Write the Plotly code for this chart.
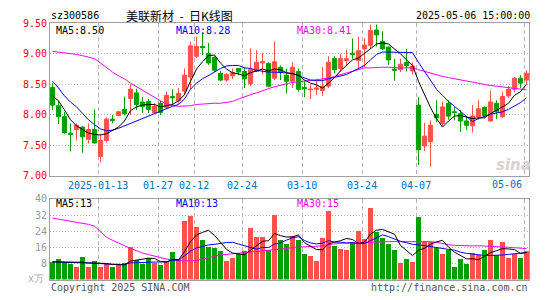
import plotly.graph_objects as go

# ---------------- data ----------------
dates = [
    "2024-12-31", "2025-01-02", "2025-01-03", "2025-01-06", "2025-01-07", "2025-01-08", "2025-01-09", "2025-01-10",
    "2025-01-13", "2025-01-14", "2025-01-15", "2025-01-16", "2025-01-17", "2025-01-20", "2025-01-21", "2025-01-22",
    "2025-01-23", "2025-01-24", "2025-01-27", "2025-02-05", "2025-02-06", "2025-02-07", "2025-02-10", "2025-02-11",
    "2025-02-12", "2025-02-13", "2025-02-14", "2025-02-17", "2025-02-18", "2025-02-19", "2025-02-20", "2025-02-21",
    "2025-02-24", "2025-02-25", "2025-02-26", "2025-02-27", "2025-02-28", "2025-03-03", "2025-03-04", "2025-03-05",
    "2025-03-06", "2025-03-07", "2025-03-10", "2025-03-11", "2025-03-12", "2025-03-13", "2025-03-14", "2025-03-17",
    "2025-03-18", "2025-03-19", "2025-03-20", "2025-03-21", "2025-03-24", "2025-03-25", "2025-03-26", "2025-03-27",
    "2025-03-28", "2025-03-31", "2025-04-01", "2025-04-02", "2025-04-03", "2025-04-07", "2025-04-08", "2025-04-09",
    "2025-04-10", "2025-04-11", "2025-04-14", "2025-04-15", "2025-04-16", "2025-04-17", "2025-04-18", "2025-04-21",
    "2025-04-22", "2025-04-23", "2025-04-24", "2025-04-25", "2025-04-28", "2025-04-29", "2025-04-30", "2025-05-06",
]

open_ = [8.45, 8.15, 7.97, 7.70, 7.76, 7.80, 7.60, 7.76, 7.32, 7.58, 7.93, 7.99, 8.09, 8.27, 8.36, 8.21,
         8.22, 8.03, 8.19, 8.12, 8.30, 8.23, 8.39, 8.62, 8.96, 9.12, 9.00, 8.94, 8.68, 8.57, 8.64, 8.76,
         8.71, 8.51, 8.71, 8.85, 8.84, 8.60, 8.78, 8.65, 8.55, 8.71, 8.45, 8.41, 8.42, 8.40, 8.47, 8.92,
         8.76, 8.89, 9.01, 8.89, 9.08, 9.14, 9.39, 9.20, 9.11, 8.75, 8.74, 8.86, 8.72, 8.16, 7.49, 7.56,
         8.01, 7.86, 8.19, 8.05, 8.02, 7.90, 7.82, 7.97, 8.12, 7.90, 8.19, 7.97, 8.31, 8.42, 8.60, 8.57]
high = [8.52, 8.23, 8.05, 7.86, 7.86, 7.81, 7.86, 8.09, 7.68, 7.96, 8.00, 8.07, 8.30, 8.50, 8.43, 8.29,
        8.26, 8.19, 8.23, 8.38, 8.42, 8.44, 8.76, 9.20, 9.28, 9.35, 9.18, 8.96, 8.72, 8.68, 8.76, 8.77,
        8.78, 9.09, 9.06, 9.02, 8.86, 9.20, 8.81, 8.76, 8.86, 8.76, 8.56, 8.50, 8.57, 8.78, 8.96, 8.96,
        9.00, 9.07, 9.25, 9.28, 9.25, 9.48, 9.48, 9.37, 9.12, 8.92, 8.92, 9.08, 8.86, 8.29, 7.87, 7.91,
        8.24, 8.21, 8.24, 8.13, 8.08, 7.98, 8.16, 8.24, 8.14, 8.40, 8.24, 8.38, 8.47, 8.62, 8.65, 8.73]
low = [8.08, 7.85, 7.69, 7.40, 7.58, 7.38, 7.53, 7.53, 7.22, 7.55, 7.86, 7.98, 7.99, 8.00, 8.08, 8.03,
       8.03, 8.02, 8.00, 8.10, 8.16, 8.18, 8.34, 8.42, 8.93, 8.98, 8.82, 8.70, 8.55, 8.54, 8.59, 8.65,
       8.44, 8.47, 8.70, 8.66, 8.45, 8.57, 8.57, 8.35, 8.44, 8.38, 8.29, 8.26, 8.33, 8.31, 8.44, 8.68,
       8.71, 8.82, 8.92, 8.77, 8.78, 9.08, 9.12, 9.06, 8.82, 8.56, 8.70, 8.71, 8.66, 7.18, 7.41, 7.15,
       7.88, 7.82, 7.92, 7.91, 7.72, 7.75, 7.71, 7.92, 7.95, 7.89, 7.93, 7.95, 8.28, 8.37, 8.44, 8.50]
close = [8.16, 7.97, 7.71, 7.68, 7.83, 7.64, 7.76, 7.54, 7.58, 7.93, 7.91, 8.05, 8.02, 8.42, 8.17, 8.14,
         8.09, 8.14, 8.04, 8.32, 8.28, 8.35, 8.65, 9.13, 9.12, 9.10, 8.85, 8.73, 8.57, 8.66, 8.69, 8.70,
         8.59, 8.74, 8.86, 8.87, 8.47, 8.87, 8.70, 8.55, 8.78, 8.42, 8.43, 8.42, 8.44, 8.47, 8.86, 8.74,
         8.92, 8.92, 8.99, 9.05, 9.14, 9.38, 9.31, 9.08, 8.90, 8.73, 8.83, 8.81, 8.80, 7.43, 7.65, 7.83,
         7.95, 8.13, 7.98, 8.04, 7.90, 7.83, 7.98, 8.10, 7.99, 8.21, 8.05, 8.30, 8.42, 8.60, 8.52, 8.68]

ma5 = [8.31, 8.23, 8.08, 7.92, 7.82, 7.76, 7.70, 7.68, 7.67, 7.69, 7.75, 7.80, 7.90, 8.07, 8.13, 8.16,
       8.17, 8.17, 8.13, 8.15, 8.17, 8.23, 8.33, 8.55, 8.75, 8.87, 8.97, 8.98, 8.85, 8.75, 8.69, 8.67,
       8.64, 8.69, 8.72, 8.75, 8.72, 8.75, 8.74, 8.69, 8.67, 8.65, 8.57, 8.52, 8.49, 8.44, 8.52, 8.61,
       8.72, 8.81, 8.90, 8.93, 9.01, 9.09, 9.16, 9.18, 9.16, 9.08, 9.00, 8.90, 8.81, 8.55, 8.33, 8.12,
       7.94, 7.80, 7.90, 7.98, 7.99, 7.97, 7.94, 7.95, 7.95, 8.02, 8.07, 8.13, 8.19, 8.32, 8.38, 8.50]
ma10 = [8.55, 8.44, 8.31, 8.21, 8.13, 8.03, 7.92, 7.84, 7.77, 7.74, 7.75, 7.78, 7.82, 7.87, 7.91, 7.95,
        7.98, 8.03, 8.06, 8.10, 8.14, 8.17, 8.26, 8.42, 8.52, 8.59, 8.64, 8.70, 8.76, 8.80, 8.81, 8.81,
        8.77, 8.76, 8.73, 8.71, 8.70, 8.70, 8.69, 8.69, 8.68, 8.64, 8.60, 8.57, 8.56, 8.56, 8.59, 8.61,
        8.63, 8.66, 8.71, 8.76, 8.81, 8.90, 8.99, 9.03, 9.03, 9.03, 9.03, 9.03, 9.02, 8.86, 8.71, 8.56,
        8.42, 8.32, 8.22, 8.14, 8.06, 7.97, 7.89, 7.94, 7.98, 8.01, 8.03, 8.05, 8.09, 8.14, 8.20, 8.28]
ma30 = [9.04, 9.03, 9.02, 9.00, 8.99, 8.97, 8.95, 8.92, 8.85, 8.77, 8.70, 8.64, 8.59, 8.52, 8.46, 8.40,
        8.35, 8.29, 8.23, 8.18, 8.15, 8.14, 8.14, 8.15, 8.17, 8.18, 8.19, 8.19, 8.19, 8.20, 8.22, 8.26,
        8.30, 8.33, 8.36, 8.40, 8.43, 8.46, 8.49, 8.51, 8.53, 8.54, 8.55, 8.56, 8.57, 8.58, 8.60, 8.63,
        8.66, 8.69, 8.71, 8.74, 8.77, 8.77, 8.78, 8.78, 8.78, 8.77, 8.77, 8.77, 8.77, 8.74, 8.71, 8.68,
        8.65, 8.63, 8.61, 8.59, 8.57, 8.55, 8.53, 8.51, 8.49, 8.48, 8.47, 8.46, 8.45, 8.44, 8.42, 8.41]

volume = [8.8, 10.1, 8.8, 8.0, 6.4, 11.3, 6.4, 9.3, 6.4, 7.7, 6.4, 7.2, 8.5, 16.1, 9.8, 8.0,
          10.9, 8.5, 7.4, 9.3, 13.7, 10.1, 29.1, 31.8, 26.2, 19.8, 16.1, 15.8, 14.1, 9.3, 10.9, 12.9,
          14.1, 25.7, 21.1, 21.1, 14.5, 32.3, 19.9, 17.8, 21.7, 19.5, 12.5, 11.6, 9.3, 20.9, 34.2, 16.9,
          15.4, 14.5, 18.6, 24.1, 20.4, 35.4, 23.8, 20.9, 17.8, 14.5, 8.2, 10.1, 8.8, 31.3, 19.0, 18.5,
          15.8, 12.9, 14.5, 6.4, 10.1, 7.7, 13.0, 12.2, 14.5, 19.8, 12.2, 18.5, 10.9, 12.9, 10.6, 14.1]
vma5 = [8.8, 8.8, 8.8, 8.6, 8.5, 8.6, 8.3, 8.3, 8.0, 8.0, 7.5, 7.4, 7.3, 9.2, 9.6, 10.0,
        10.6, 10.5, 8.9, 8.7, 10.0, 9.8, 13.9, 18.8, 22.2, 23.4, 24.5, 21.9, 18.4, 15.0, 13.2, 12.6,
        12.3, 14.6, 16.9, 19.0, 19.3, 22.9, 21.8, 21.1, 21.2, 22.2, 18.3, 16.6, 14.9, 14.8, 17.7, 18.6,
        19.3, 20.4, 19.9, 17.9, 18.6, 22.6, 24.5, 24.9, 23.7, 22.5, 17.0, 14.3, 11.9, 14.6, 15.5, 17.5,
        18.7, 19.5, 16.1, 13.6, 11.9, 10.3, 10.3, 9.9, 11.5, 13.4, 14.3, 15.4, 15.2, 14.9, 13.0, 13.4]
vma10 = [8.8, 8.7, 8.6, 8.5, 8.5, 8.6, 8.4, 8.3, 8.0, 7.7, 7.6, 7.5, 7.5, 8.3, 8.4, 8.6,
         8.7, 8.6, 8.6, 8.9, 9.6, 9.7, 11.8, 14.1, 15.7, 16.6, 17.2, 17.5, 18.1, 18.4, 18.5, 17.7,
         16.9, 16.2, 15.1, 16.0, 15.9, 17.6, 18.2, 19.6, 20.7, 21.3, 19.4, 18.2, 17.7, 18.1, 19.3, 18.6,
         18.6, 18.1, 18.3, 17.9, 17.9, 19.3, 20.7, 22.2, 21.3, 20.2, 19.0, 18.3, 17.5, 17.3, 16.8, 16.2,
         15.8, 15.4, 15.0, 14.6, 13.6, 13.0, 12.6, 12.3, 12.0, 12.0, 12.0, 12.2, 12.5, 12.9, 13.2, 13.4]
vma30 = [30.5, 30.0, 29.5, 28.9, 28.3, 27.8, 27.4, 26.5, 23.5, 21.0, 19.5, 18.0, 16.8, 15.5, 14.3, 13.2,
         12.4, 11.6, 10.9, 10.2, 9.7, 9.4, 9.3, 9.3, 9.5, 10.2, 10.9, 11.6, 12.2, 12.5, 12.8, 13.0,
         13.2, 13.4, 13.7, 14.1, 14.3, 14.7, 15.0, 15.4, 16.0, 16.1, 16.2, 16.3, 16.4, 16.7, 17.4, 17.8,
         18.0, 18.2, 18.3, 18.4, 18.5, 18.7, 18.8, 18.9, 18.9, 18.9, 18.8, 18.8, 18.8, 18.9, 18.9, 18.8,
         18.5, 17.8, 17.3, 17.0, 16.8, 16.6, 16.7, 16.8, 16.7, 16.5, 16.3, 16.1, 16.0, 15.8, 15.6, 15.4]

tick_dates = ["2025-01-13", "2025-01-27", "2025-02-12", "2025-02-24", "2025-03-10", "2025-03-24", "2025-04-07", "2025-05-06"]
tick_labels = ["2025-01-13", "01-27", "02-12", "02-24", "03-10", "03-24", "04-07", "05-06"]
price_ticks = [7.0, 7.5, 8.0, 8.5, 9.0, 9.5]
vol_ticks = [8, 16, 24, 32, 40]

# ---------------- style ----------------
W, H = 545, 300
L, R = 50, 529
RED = "#ff5050"
GREEN = "#00a000"
MONO = "DejaVu Sans Mono"
GRIDC = "#b4b4b4"
BORDER = "#a0a0a0"
BLUE_T = "#0070c0"

x = list(range(len(dates)))
tick_idx = [dates.index(d) for d in tick_dates]
grid_shift = -0.4  # grid lines sit slightly left of candle centres


def fx(px):
    return (px - L) / (R - L)


def fy(py):
    return 1 - py / H


fig = go.Figure()

fig.add_trace(go.Candlestick(
    x=x, open=open_, high=high, low=low, close=close,
    increasing=dict(line=dict(color=RED, width=1), fillcolor=RED),
    decreasing=dict(line=dict(color=GREEN, width=1), fillcolor=GREEN),
    whiskerwidth=0, xaxis="x", yaxis="y", showlegend=False, hoverinfo="skip",
))
for s, c in [(ma30, "#ff00ff"), (ma10, "#0000ff"), (ma5, "#000000")]:
    fig.add_trace(go.Scatter(x=x, y=s, mode="lines", line=dict(color=c, width=1),
                             xaxis="x", yaxis="y", showlegend=False, hoverinfo="skip"))

bar_colors = [RED if c >= o else GREEN for o, c in zip(open_, close)]
fig.add_trace(go.Bar(x=x, y=volume, marker=dict(color=bar_colors, line=dict(width=0)),
                     width=0.78, xaxis="x2", yaxis="y2", showlegend=False, hoverinfo="skip"))
for s, c in [(vma30, "#ff00ff"), (vma10, "#0000ff"), (vma5, "#000000")]:
    fig.add_trace(go.Scatter(x=x, y=s, mode="lines", line=dict(color=c, width=1),
                             xaxis="x2", yaxis="y2", showlegend=False, hoverinfo="skip"))

xr = [-0.42, len(dates) - 1 + 0.42]
gridvals = [i + grid_shift for i in tick_idx]
common_x = dict(range=xr, showline=True, mirror=True, linecolor=BORDER, linewidth=1,
                showgrid=True, gridcolor=GRIDC, griddash="4px,3px", gridwidth=1,
                zeroline=False, ticks="", fixedrange=True)

fig.update_layout(
    width=W, height=H,
    margin=dict(l=L, r=W - R, t=0, b=0),
    paper_bgcolor="white", plot_bgcolor="white",
    boxgap=0.3, boxgroupgap=0,
    bargap=0,
    xaxis=dict(**common_x, domain=[0, 1], anchor="y", tickmode="array", tickvals=gridvals,
               ticktext=tick_labels[:-1] + [""],
               tickfont=dict(family=MONO, size=10, color=BLUE_T), rangeslider=dict(visible=False)),
    yaxis=dict(domain=[fy(177), fy(18)], range=[7.0, 9.5], tickvals=price_ticks, tickformat=".2f",
               showline=True, mirror=True, linecolor=BORDER, linewidth=1,
               showgrid=True, gridcolor=GRIDC, griddash="1px,2px", zeroline=False, ticks="",
               tickfont=dict(family=MONO, size=10, color="#ff0000"), anchor="x"),
    xaxis2=dict(**common_x, domain=[0, 1], anchor="y2", tickmode="array", tickvals=gridvals,
                showticklabels=False),
    yaxis2=dict(domain=[fy(285), fy(201)], range=[0, 40], tickvals=vol_ticks,
                showline=True, mirror=True, linecolor=BORDER, linewidth=1,
                showgrid=True, gridcolor=GRIDC, griddash="1px,2px", zeroline=False, ticks="",
                tickfont=dict(family=MONO, size=10, color="#999999"), anchor="x2"),
)


def ann(text, px, py, color="#000000", size=10, family=MONO, xanchor="left", **kw):
    fig.add_annotation(text=text, x=fx(px), y=fy(py), xref="paper", yref="paper",
                       xanchor=xanchor, yanchor="middle", showarrow=False,
                       font=dict(family=family, size=size, color=color), **kw)


# header
ann("sz300586", 49, 10)
ann("美联新材 &nbsp;- &nbsp;日K线图", 179, 10, size=12, family="Noto Sans CJK SC", xanchor="center")
ann("2025-05-06 15:00:00", 532, 10, xanchor="right")
# price legend
ann(f"MA5:{ma5[-1]:.2f}", 54, 25)
ann(f"MA10:{ma10[-1]:.2f}", 174, 25, color="#0000ff")
ann(f"MA30:{ma30[-1]:.2f}", 295, 25, color="#ff00ff")
# last date label kept inside the frame
ann(tick_labels[-1], 524, 186, color=BLUE_T, xanchor="right")
# volume legend (whole units, truncated)
ann(f"MA5:{int(vma5[-1])}", 54, 206)
ann(f"MA10:{int(vma10[-1])}", 174, 206, color="#0000ff")
ann(f"MA30:{int(vma30[-1])}", 295, 206, color="#ff00ff")
ann("x万", 46, 284, color="#aaaaaa", xanchor="right")
# footer
ann("Copyright 2025 SINA.COM", 49, 293, color="#555555")
ann("http://finance.sina.com.cn", 530, 293, color="#555555", xanchor="right")
# watermark
ann("<b><i>sina</i></b>", 513, 166, color="#d9d2d2", size=15, family="DejaVu Sans", xanchor="center")

fig.write_html("out.html")
